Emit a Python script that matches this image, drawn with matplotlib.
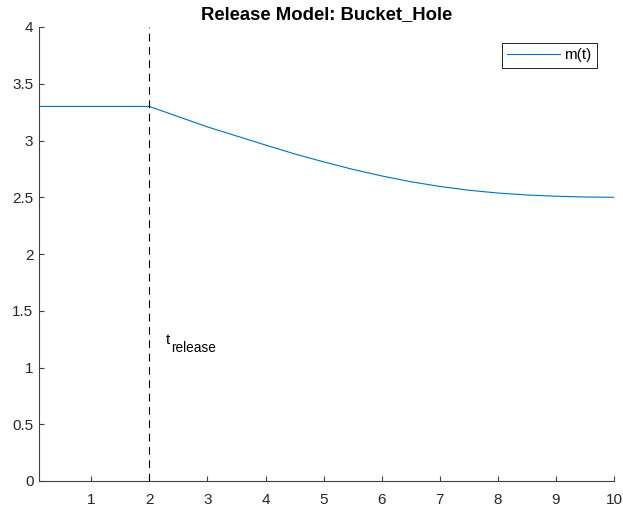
import matplotlib
matplotlib.use("Agg")
import matplotlib.pyplot as plt

plt.rcParams['font.family'] = ['Liberation Sans', 'DejaVu Sans']

# Mass over time for the bucket-hole release model
t = [0.1, 1.0, 2.0, 2.5, 3.0, 3.5, 4.0, 4.5, 5.0, 5.5, 6.0, 6.5, 7.0, 7.5, 8.0, 8.5, 9.0, 9.5, 10.0]
m = [3.30, 3.30, 3.30, 3.21, 3.12, 3.04, 2.96, 2.882, 2.812, 2.746, 2.688, 2.637, 2.595, 2.562, 2.537, 2.52, 2.509, 2.502, 2.50]

t_release = 2.0
x_ticks = [1, 2, 3, 4, 5, 6, 7, 8, 9, 10]
y_ticks = [0, 0.5, 1, 1.5, 2, 2.5, 3, 3.5, 4]
y_tick_labels = ['0', '0.5', '1', '1.5', '2', '2.5', '3', '3.5', '4']

fig = plt.figure(figsize=(6.23, 5.16), dpi=100)
ax = fig.add_axes([39 / 623, 1 - 481 / 516, 575 / 623, 454 / 516])

ax.plot(t, m, color='#0072BD', lw=0.8, label='m(t)')
ax.plot([t_release, t_release], [0, 4], color='black', lw=0.8,
        linestyle=(0, (7, 5)))

# release marker label: "t" with a subscript
ax.annotate('t', xy=(2.285, 1.211), xycoords='data', fontsize=11,
            ha='left', va='baseline', color='black')
ax.annotate('release', xy=(2.285, 1.211), xycoords='data',
            xytext=(5.7, -8.5), textcoords='offset pixels', fontsize=9.8,
            ha='left', va='baseline', color='black')

ax.set_xlim(0.1, 10)
ax.set_ylim(0, 4)
ax.set_xticks(x_ticks)
ax.set_yticks(y_ticks)
ax.set_yticklabels(y_tick_labels)

for side in ('top', 'right'):
    ax.spines[side].set_visible(False)
for side in ('left', 'bottom'):
    ax.spines[side].set_color('#404040')
    ax.spines[side].set_linewidth(0.8)

ax.tick_params(axis='both', direction='in', length=3.3, width=0.8,
               colors='#404040', labelcolor='#262626', labelsize=11)
ax.tick_params(axis='x', pad=9)
ax.tick_params(axis='y', pad=4)

ax.set_title('Release Model: Bucket_Hole', fontsize=13.3, fontweight='bold',
             color='black', pad=6)

leg = ax.legend(loc='upper right', bbox_to_anchor=(0.970, 0.965),
                borderaxespad=0, fontsize=11, handlelength=3.5,
                handletextpad=0.25, borderpad=0.35, fancybox=False,
                framealpha=1, edgecolor='black')
leg.get_frame().set_linewidth(0.6)

fig.savefig('out.png', dpi=100)
